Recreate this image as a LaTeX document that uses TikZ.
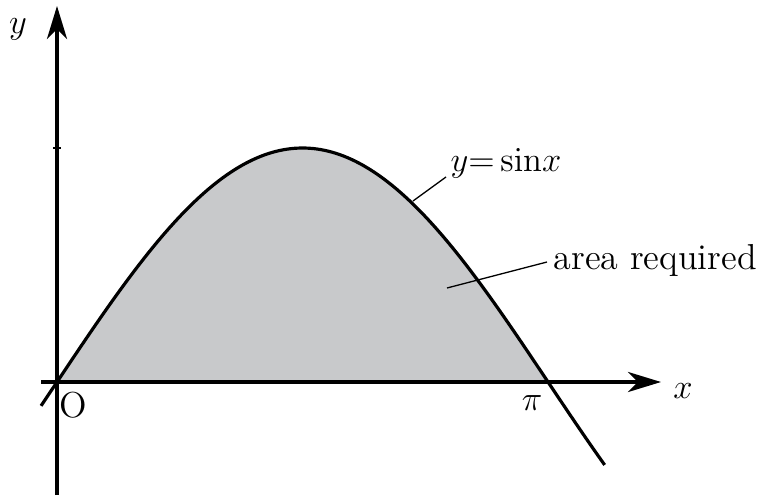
\documentclass[tikz,border=0pt]{standalone}
\usetikzlibrary{arrows.meta}
\definecolor{areagray}{RGB}{200,201,203}
\begin{document}
\begin{tikzpicture}[x=0.3464pt,y=-0.3464pt,
  font=\fontsize{12.5}{15}\selectfont,
  axis/.style={line width=1.1pt,-{Stealth[length=11.5pt,width=7pt,inset=3.5pt]}},
  curve/.style={line width=1.1pt},
  leader/.style={line width=0.45pt},
  lbl/.style={inner sep=0pt}]
\useasboundingbox (0,0) rectangle (765,497);
\coordinate (O) at (57,382);
\coordinate (P) at (548,382);
\fill[areagray] plot[domain=0:3.14159,samples=120] ({57+156.3*\x},{382-234*sin(\x r)}) -- cycle;
\coordinate (xs) at (41,382);
\coordinate (xe) at (661,382);
\coordinate (ys) at (57,495);
\coordinate (ye) at (57,6);
\draw[axis] (xs) -- (xe);
\draw[axis] (ys) -- (ye);
\coordinate (t1) at (53,148);
\coordinate (t2) at (61,148);
\draw[line width=0.9pt] (t1) -- (t2);
\draw[curve] plot[domain=-0.102:3.506,samples=150] ({57+156.3*\x},{382-234*sin(\x r)});
\node[lbl] (xl) at (683,391) {$x$};
\node[lbl] (yl) at (18,29) {$y$};
\node[lbl] (ol) at (73,405) {O};
\node[lbl] (pl) at (532,403) {$\pi$};
\node[lbl,anchor=west] (sl) at (450,163) {$y{=}\sin\!x$};
\node[lbl,anchor=west] (al) at (553,260) {area required};
\coordinate (s1) at (413,201);
\coordinate (s2) at (446,177);
\coordinate (a1) at (447,288);
\coordinate (a2) at (547,262);
\draw[leader] (s1) -- (s2);
\draw[leader] (a1) -- (a2);
\end{tikzpicture}
\end{document}
